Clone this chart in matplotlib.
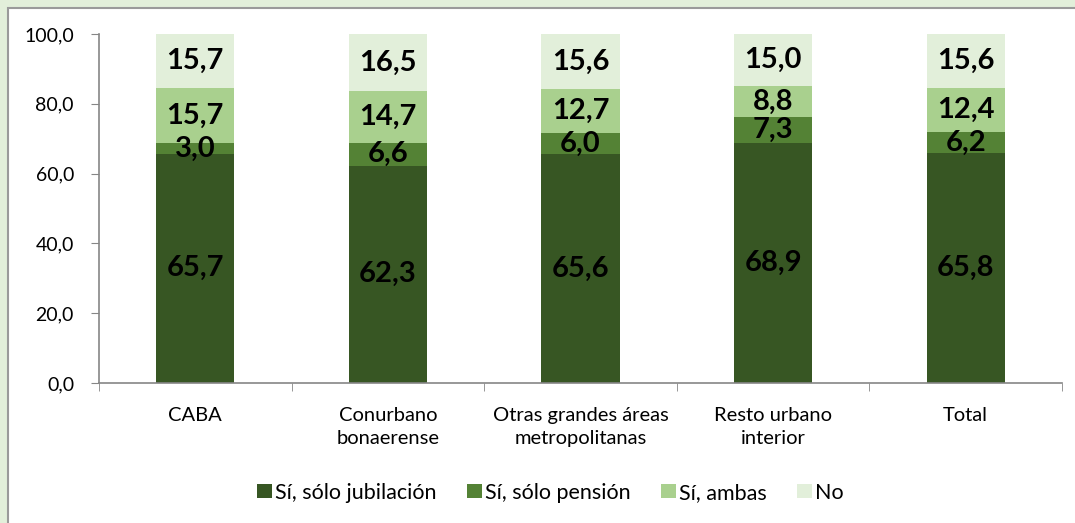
import matplotlib.pyplot as plt
import numpy as np
from matplotlib.patches import Rectangle

plt.rcParams["font.family"] = ["Lato", "DejaVu Sans"]

categories = ["CABA", "Conurbano\nbonaerense", "Otras grandes áreas\nmetropolitanas",
              "Resto urbano\ninterior", "Total"]
series_names = ["Sí, sólo jubilación", "Sí, sólo pensión", "Sí, ambas", "No"]
jubilacion = [65.7, 62.3, 65.6, 68.9, 65.8]
pension = [3.0, 6.6, 6.0, 7.3, 6.2]
ambas = [15.7, 14.7, 12.7, 8.8, 12.4]
no = [15.7, 16.5, 15.6, 15.0, 15.6]
colors = ["#375623", "#548235", "#A9D08E", "#E2EFDA"]
yticks = [0, 20, 40, 60, 80, 100]


def fmt(v):
    return f"{v:.1f}".replace(".", ",")


fig = plt.figure(figsize=(10.75, 5.23), dpi=100)
fig.patch.set_facecolor("#E2EFDA")
fig.patches.append(Rectangle((8 / 1075, -0.1), 2, 1 - 8 / 523 + 0.1,
                             transform=fig.transFigure, facecolor="white",
                             edgecolor="#9a9a9a", lw=1.5, zorder=-10))

ax = fig.add_axes([99 / 1075, 1 - 383 / 523, 963 / 1075, 349 / 523])
ax.set_facecolor("none")

x = np.arange(len(categories))
bottom = np.zeros(len(categories))
for name, vals, c in zip(series_names, [jubilacion, pension, ambas, no], colors):
    vals = np.array(vals)
    ax.bar(x, vals, width=0.405, bottom=bottom, color=c, label=name, zorder=2)
    for xi, b, v in zip(x, bottom, vals):
        ax.text(xi, b + v / 2, fmt(v), ha="center", va="center",
                fontsize=21, fontweight="bold", color="black", zorder=3)
    bottom = bottom + vals

ax.set_xlim(-0.5, len(categories) - 0.5)
ax.set_ylim(0, 100)
ax.set_yticks(yticks)
ax.set_yticklabels([fmt(t) for t in yticks], fontsize=14)
ax.set_xticks(x)
ax.set_xticklabels(categories, fontsize=14.5, va="top", linespacing=1.45)
ax.tick_params(axis="x", length=0, pad=17)
ax.set_xticks(np.arange(-0.5, len(categories)), minor=True)
ax.tick_params(axis="x", which="minor", length=6, color="#868686", direction="out")
ax.tick_params(axis="y", length=6, color="#868686", direction="out", pad=12)

for s in ["top", "right"]:
    ax.spines[s].set_visible(False)
for s in ["left", "bottom"]:
    ax.spines[s].set_color("#868686")
    ax.spines[s].set_linewidth(1.2)

ax.legend(loc="center", bbox_to_anchor=(0.512, 0.058), bbox_transform=fig.transFigure,
          ncol=4, frameon=False, fontsize=15.5, handlelength=0.7, handleheight=0.65,
          handletextpad=0.15, columnspacing=1.4)

fig.savefig("out.png", dpi=100, facecolor=fig.get_facecolor())
